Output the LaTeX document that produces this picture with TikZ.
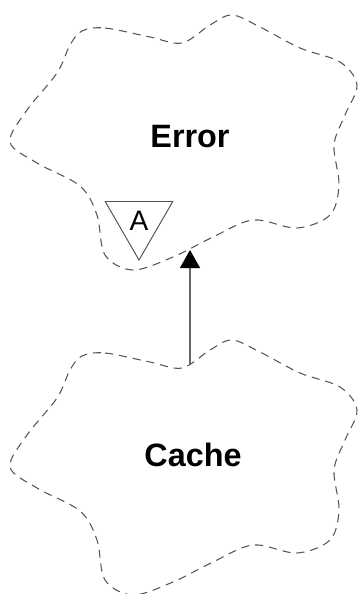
\documentclass[tikz,border=0pt]{standalone}
\usepackage{fontspec}
\setmainfont{Liberation Sans}
\usetikzlibrary{arrows.meta, shapes.geometric}
\definecolor{cloudgray}{HTML}{555555}
\definecolor{linkgray}{HTML}{666666}

% Booch class cloud outline (pixel grid, y down)
\newcommand{\boochcloud}{plot[smooth cycle, tension=0.55] coordinates {(82,31) (105,28) (150,37) (182,43) (210,25) (232,15) (260,27) (300,48) (340,62) (357,85) (345,115) (334,145) (339,185) (330,215) (297,228) (253,220) (213,237) (173,257) (133,270) (105,255) (97,215) (80,186) (37,163) (10,142) (27,110) (57,73) (70,45)}}

\begin{document}
\begin{tikzpicture}[
    x=0.025cm, y=-0.025cm,
    cloudline/.style={draw=cloudgray, dash pattern=on 5.8pt off 4.2pt, line width=0.75pt},
    classname/.style={font=\fontsize{23}{28}\selectfont\bfseries},
    abstractmark/.style={regular polygon, regular polygon sides=3, shape border rotate=180, draw=cloudgray, fill=white, line width=0.7pt, minimum size=1.95cm, inner sep=0pt, font=\fontsize{20}{24}\selectfont},
    inherit/.style={-{Triangle[length=0.45cm, width=0.5cm, black]}, draw=linkgray, line width=0.75pt},
]
\useasboundingbox (0,0) rectangle (361,594);

% Error
\draw[cloudline] \boochcloud;
\node[classname] (error) at (190,137) {Error};
\node[abstractmark] (abstract) at (139,221) {A};

% Cache
\draw[cloudline, shift={(0,325)}] \boochcloud;
\node[classname] (cache) at (193,455) {Cache};

% Generalization
\coordinate (errorbot) at (190,250);
\coordinate (cachetop) at (190,365);
\draw[inherit] (cachetop) -- (errorbot);

\end{tikzpicture}
\end{document}
